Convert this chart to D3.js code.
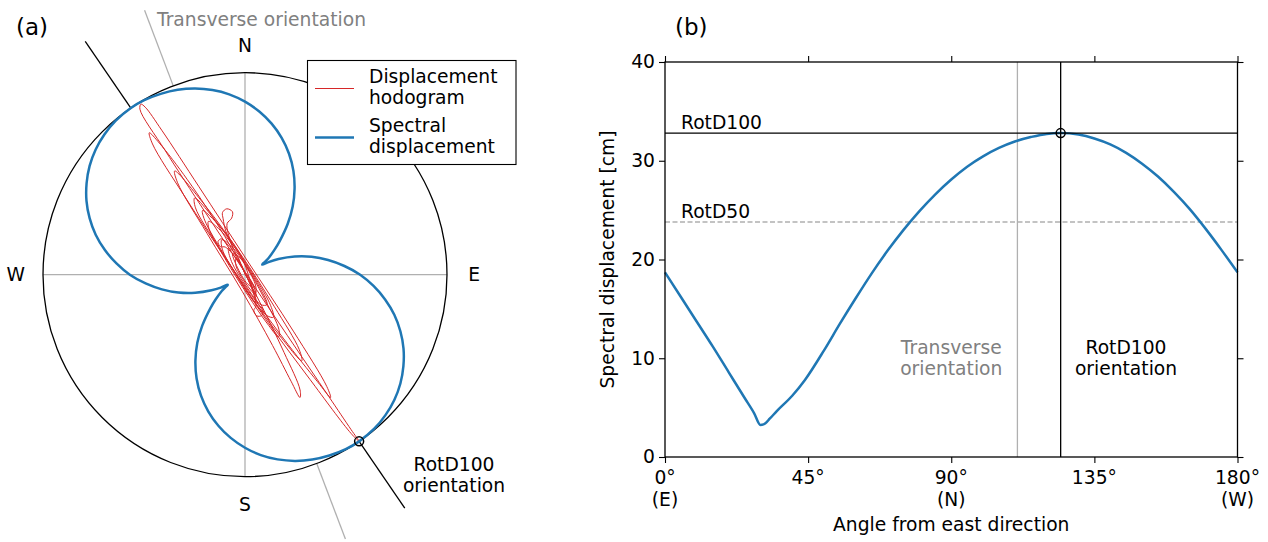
<!DOCTYPE html>
<html>
<head>
<meta charset="utf-8">
<script src="https://cdn.jsdelivr.net/npm/d3@7"></script>
<style>
body { margin: 0; background: #fff; }
svg text { font-family: "DejaVu Sans", sans-serif; }
</style>
</head>
<body>
<div id="chart"></div>
<script>
// spectral displacement [cm] against rotation angle from east [deg]
var angles   = [0, 5, 10, 15, 20, 25, 28, 30, 31, 33, 35, 40, 44, 50, 55, 60, 65, 70, 75, 80, 85, 90, 95, 100, 105, 110, 115, 120, 124.4, 130, 135, 140, 145, 150, 155, 160, 165, 170, 175, 180]
var specDisp = [18.7, 16.2, 13.7, 11.2, 8.6, 6.0, 4.45, 3.25, 3.3, 3.9, 4.6, 6.2, 7.8, 10.8, 13.5, 16.1, 18.6, 20.9, 23.0, 24.9, 26.6, 28.1, 29.4, 30.45, 31.3, 31.95, 32.4, 32.72, 32.8, 32.65, 32.25, 31.65, 30.8, 29.7, 28.4, 26.85, 25.1, 23.1, 20.95, 18.7]

var rotD100 = 32.8
var rotD50 = 23.8
var rotD100Angle = 124.4
var transverseAngle = 110.8

// displacement hodogram, along / across the RotD100 orientation [cm]
var hodoAlong  = [0, 1.5, 3.0, 2.0, -1.0, -3.5, -2.5, 1.0, 5.0, 6.8, 5.5, 1.0, -4.0, -7.5, -8.3, -6.5, -1.0, 5.0, 9.0, 10.5,
                  9.5, 4.0, -3.0, -8.5, -11.4, -10.5, -5.0, 3.0, 10.0, 14.9, 13.5, 6.0, -4.0, -12.0, -16.75, -15.0, -7.0, 3.0, 13.0, 20.35,
                  18.5, 9.0, -2.0, -12.0, -18.5, -21.5, -20.5, -14.0, -4.0, 7.0, 18.0, 25.5, 27.8, 26.0, 16.0, 2.0, -12.0, -21.0, -24.3, -22.5,
                  -12.0, 2.0, 16.0, 27.0, 31.6, 32.4, 31.8, 24.0, 12.0, 0.0, -12.0, -24.0, -30.5, -32.8, -31.0, -20.0, -8.0, 4.0, 11.0, 12.5,
                  10.5, 3.0, -5.0, -6.3, -7.0, -6.6, -5.6, -5.2, -3.0, 2.0, 5.5, 6.0, 6.9, 7.0, 6.3, 4.5, 7.0, 8.5, 8.8, 9.6,
                  10.5, 10.4, 9.5, 7.5, 3.0, -2.0, -4.0, -2.0, 1.0, 3.5, 5.0, 3.0, -2.0, -5.5, -6.0, -3.0, 2.5, 4.0, 2.0, -1.5,
                  -2.5, 0.0]
var hodoAcross = [0, 0.4, 0.3, -0.4, -0.7, -0.4, 0.4, 0.9, 0.8, 0.1, -0.7, -1.2, -1.3, -0.8, -0.1, 0.6, 1.1, 1.1, 0.6, 0.0,
                  -0.6, -1.2, -1.5, -1.5, -1.2, -0.5, 0.4, 1.1, 1.0, 0.3, -0.5, -1.0, -1.2, -0.9, -0.3, 0.4, 1.0, 1.3, 1.0, 0.1,
                  -0.6, -1.3, -1.9, -2.8, -3.6, -3.9, -3.2, -1.9, -0.4, 0.8, 1.0, 0.6, 0.2, -0.4, -0.9, -1.1, -0.7, -0.1, 0.2, 0.7,
                  1.3, 1.6, 1.9, 2.1, 2.0, 1.7, 1.1, 0.7, 0.4, 0.2, 0.1, 0.05, 0.0, 0.0, -0.35, -0.9, -1.3, -1.0, -0.4, 0.2,
                  0.8, 1.2, -0.9, -0.8, -1.5, -2.2, -2.1, -1.4, -0.5, 0.3, -0.1, -0.7, -0.6, 0.1, 0.3, 0.7, 1.5, 2.3, 3.4, 4.1,
                  3.6, 2.7, 2.2, 1.4, 0.6, -0.2, -0.5, 0.2, 0.3, 0.7, 0.2, -0.6, -0.9, -0.6, 0.2, 0.8, 0.9, 0.3, -0.3, -0.5,
                  0.0, 0.0]

var compassLabels = ["E", "N", "W", "S"]
var compassAngles = [0, 90, 180, 270]
var xTicks = [0, 45, 90, 135, 180]
var xTickLines = [["0°", "(E)"], ["45°"], ["90°", "(N)"], ["135°"], ["180°", "(W)"]]
var yTicks = [0, 10, 20, 30, 40]

var blue = "#1f77b4", red = "#d62728", grey = "#b0b0b0", greyText = "#808080"
var fs = "18.7px"
var rad = Math.PI / 180

var svg = d3.select("#chart").append("svg")
    .attr("width", 1268)
    .attr("height", 542)

// ---------------- (a) polar view ----------------
var ax = d3.scaleLinear().domain([-rotD100, rotD100]).range([43, 447])
var ay = d3.scaleLinear().domain([-rotD100, rotD100]).range([476.7, 72.7])

function polar(deg, r) {
    return [ax(r * Math.cos(deg * rad)), ay(r * Math.sin(deg * rad))]
}

var pa = svg.append("g")

// N-S and E-W cross
pa.selectAll("line.cross")
    .data([0, 90])
    .enter()
    .append("line")
    .attr("x1", d => polar(d, rotD100)[0])
    .attr("y1", d => polar(d, rotD100)[1])
    .attr("x2", d => polar(d + 180, rotD100)[0])
    .attr("y2", d => polar(d + 180, rotD100)[1])
    .attr("stroke", grey)
    .attr("stroke-width", 1.3)

// orientation lines outside the circle
var orientLines = [
    {a: transverseAngle, c: grey}, {a: transverseAngle + 180, c: grey},
    {a: rotD100Angle, c: "black"}, {a: rotD100Angle + 180, c: "black"}
]
pa.selectAll("line.orient")
    .data(orientLines)
    .enter()
    .append("line")
    .attr("x1", d => polar(d.a, rotD100)[0])
    .attr("y1", d => polar(d.a, rotD100)[1])
    .attr("x2", d => polar(d.a, rotD100 * 1.4)[0])
    .attr("y2", d => polar(d.a, rotD100 * 1.4)[1])
    .attr("stroke", d => d.c)
    .attr("stroke-width", 1.3)

pa.append("circle")
    .attr("cx", ax(0))
    .attr("cy", ay(0))
    .attr("r", ax(rotD100) - ax(0))
    .attr("fill", "none")
    .attr("stroke", "black")
    .attr("stroke-width", 1.3)

// hodogram: rotate along/across back to east/north
var ca = Math.cos(rotD100Angle * rad), sa = Math.sin(rotD100Angle * rad)
var hodo = hodoAlong.map(function (u, i) {
    var v = hodoAcross[i]
    return [ax(u * ca + v * sa), ay(u * sa - v * ca)]
})
pa.append("path")
    .attr("d", d3.line().curve(d3.curveCatmullRom.alpha(0.5))(hodo))
    .attr("fill", "none")
    .attr("stroke", red)
    .attr("stroke-width", 1)

// spectral displacement around the compass (period 180 deg)
var polarPts = []
angles.forEach(function (a, i) { if (a < 180) polarPts.push(polar(a, specDisp[i])) })
angles.forEach(function (a, i) { if (a < 180) polarPts.push(polar(a + 180, specDisp[i])) })
pa.append("path")
    .attr("d", d3.line().curve(d3.curveCatmullRomClosed.alpha(0.5))(polarPts))
    .attr("fill", "none")
    .attr("stroke", blue)
    .attr("stroke-width", 2.5)

// RotD100 marker
var mk = polar(rotD100Angle + 180, rotD100)
pa.append("circle")
    .attr("cx", mk[0]).attr("cy", mk[1]).attr("r", 4.5)
    .attr("fill", "none").attr("stroke", "black").attr("stroke-width", 1.5)

// compass letters
pa.selectAll("text.compass")
    .data(compassLabels)
    .enter()
    .append("text")
    .attr("x", (d, i) => polar(compassAngles[i], rotD100 * 1.135)[0])
    .attr("y", (d, i) => polar(compassAngles[i], rotD100 * 1.135)[1])
    .attr("dy", "0.36em")
    .attr("text-anchor", "middle")
    .attr("font-size", fs)
    .text(d => d)

pa.append("text")
    .attr("x", 157).attr("y", 26)
    .attr("font-size", fs)
    .attr("fill", greyText)
    .text("Transverse orientation")

pa.append("text")
    .attr("text-anchor", "middle")
    .attr("font-size", fs)
    .selectAll("tspan")
    .data(["RotD100", "orientation"])
    .enter()
    .append("tspan")
    .attr("x", 454)
    .attr("y", (d, i) => 471 + i * 21)
    .text(d => d)

// legend
var lg = pa.append("g")
lg.append("rect")
    .attr("x", 307.5).attr("y", 60.5).attr("width", 208.5).attr("height", 104)
    .attr("fill", "white").attr("stroke", "black").attr("stroke-width", 1.1)
var legendItems = [
    {lines: ["Displacement", "hodogram"], c: red, w: 1, y: 83},
    {lines: ["Spectral", "displacement"], c: blue, w: 2.5, y: 132}
]
legendItems.forEach(function (it) {
    lg.append("line")
        .attr("x1", 315).attr("x2", 354)
        .attr("y1", it.y + 5.5).attr("y2", it.y + 5.5)
        .attr("stroke", it.c).attr("stroke-width", it.w)
    lg.append("text")
        .attr("font-size", fs)
        .selectAll("tspan")
        .data(it.lines)
        .enter()
        .append("tspan")
        .attr("x", 369)
        .attr("y", (d, i) => it.y + i * 21)
        .text(d => d)
})

svg.append("text").attr("x", 16).attr("y", 35).attr("font-size", "23px").text("(a)")
svg.append("text").attr("x", 675).attr("y", 35).attr("font-size", "23px").text("(b)")

// ---------------- (b) angle plot ----------------
var bx = d3.scaleLinear().domain([0, 180]).range([665, 1237.5])
var by = d3.scaleLinear().domain([0, 40]).range([457, 62])

var pb = svg.append("g")

pb.append("line")
    .attr("x1", bx(0)).attr("x2", bx(180))
    .attr("y1", by(rotD50)).attr("y2", by(rotD50))
    .attr("stroke", grey).attr("stroke-width", 1.3)
    .attr("stroke-dasharray", "5,2.5")

pb.append("line")
    .attr("x1", bx(transverseAngle)).attr("x2", bx(transverseAngle))
    .attr("y1", by(0)).attr("y2", by(40))
    .attr("stroke", grey).attr("stroke-width", 1.3)

pb.append("path")
    .datum(angles)
    .attr("d", d3.line()
        .curve(d3.curveMonotoneX)
        .x(d => bx(d))
        .y((d, i) => by(specDisp[i])))
    .attr("fill", "none")
    .attr("stroke", blue)
    .attr("stroke-width", 2.5)

pb.append("line")
    .attr("x1", bx(0)).attr("x2", bx(180))
    .attr("y1", by(rotD100)).attr("y2", by(rotD100))
    .attr("stroke", "black").attr("stroke-width", 1.3)
pb.append("line")
    .attr("x1", bx(rotD100Angle)).attr("x2", bx(rotD100Angle))
    .attr("y1", by(0)).attr("y2", by(40))
    .attr("stroke", "black").attr("stroke-width", 1.3)

pb.append("circle")
    .attr("cx", bx(rotD100Angle)).attr("cy", by(rotD100)).attr("r", 4.5)
    .attr("fill", "none").attr("stroke", "black").attr("stroke-width", 1.5)

// axes, ticks outward on all four sides
function styleAxis(g) {
    g.select(".domain").remove()
    g.selectAll(".tick line").attr("stroke", "black").attr("stroke-width", 1.1)
    g.selectAll("text").attr("font-size", fs).attr("font-family", "DejaVu Sans, sans-serif").attr("fill", "black")
}
pb.append("g")
    .attr("transform", "translate(0," + by(0) + ")")
    .call(d3.axisBottom(bx).tickValues(xTicks).tickSize(6).tickFormat(""))
    .call(styleAxis)
pb.append("g")
    .attr("transform", "translate(0," + by(40) + ")")
    .call(d3.axisTop(bx).tickValues(xTicks).tickSize(6).tickFormat(""))
    .call(styleAxis)
pb.append("g")
    .attr("transform", "translate(" + bx(0) + ",0)")
    .call(d3.axisLeft(by).tickValues(yTicks).tickSize(6).tickPadding(4))
    .call(styleAxis)
pb.append("g")
    .attr("transform", "translate(" + bx(180) + ",0)")
    .call(d3.axisRight(by).tickValues(yTicks).tickSize(6).tickFormat(""))
    .call(styleAxis)

pb.append("rect")
    .attr("x", bx(0)).attr("y", by(40))
    .attr("width", bx(180) - bx(0)).attr("height", by(0) - by(40))
    .attr("fill", "none").attr("stroke", "black").attr("stroke-width", 1.3)

// two-line x tick labels
pb.selectAll("text.xt")
    .data(xTicks)
    .enter()
    .append("text")
    .attr("text-anchor", "middle")
    .attr("font-size", fs)
    .selectAll("tspan")
    .data((d, i) => xTickLines[i].map(s => ({t: d, s: s})))
    .enter()
    .append("tspan")
    .attr("x", d => bx(d.t))
    .attr("y", (d, i) => 484 + i * 21.5)
    .text(d => d.s)

pb.append("text")
    .attr("x", bx(90)).attr("y", 531)
    .attr("text-anchor", "middle")
    .attr("font-size", fs)
    .text("Angle from east direction")

pb.append("text")
    .attr("transform", "translate(614," + (by(20)) + ") rotate(-90)")
    .attr("text-anchor", "middle")
    .attr("font-size", fs)
    .text("Spectral displacement [cm]")

pb.append("text")
    .attr("x", bx(0) + 16).attr("y", by(rotD100) - 4.5)
    .attr("font-size", fs)
    .text("RotD100")
pb.append("text")
    .attr("x", bx(0) + 16).attr("y", by(rotD50) - 4)
    .attr("font-size", fs)
    .text("RotD50")

pb.append("text")
    .attr("text-anchor", "middle")
    .attr("font-size", fs)
    .attr("fill", greyText)
    .selectAll("tspan")
    .data(["Transverse", "orientation"])
    .enter()
    .append("tspan")
    .attr("x", bx(90))
    .attr("y", (d, i) => 354 + i * 21)
    .text(d => d)

pb.append("text")
    .attr("text-anchor", "middle")
    .attr("font-size", fs)
    .selectAll("tspan")
    .data(["RotD100", "orientation"])
    .enter()
    .append("tspan")
    .attr("x", 1126)
    .attr("y", (d, i) => 354 + i * 21)
    .text(d => d)
</script>
</body>
</html>
